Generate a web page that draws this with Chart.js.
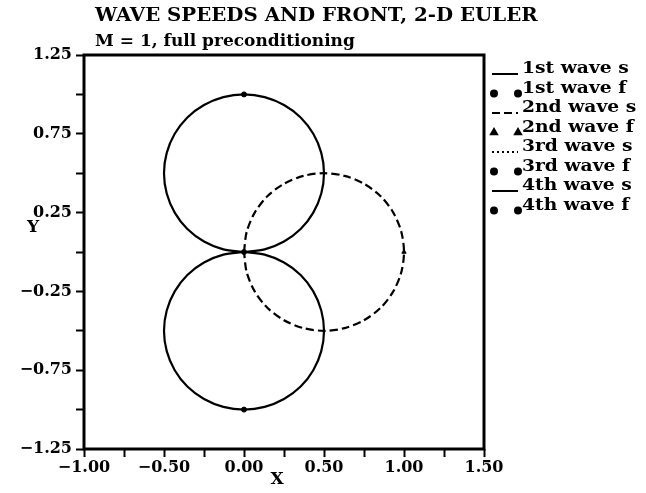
<!DOCTYPE html>
<html>
<head>
<meta charset="utf-8">
<script src="https://cdn.jsdelivr.net/npm/chart.js@4.4.0/dist/chart.umd.min.js"></script>
<style>
  html, body { margin: 0; padding: 0; background: #fff; }
</style>
</head>
<body>
<canvas id="waveChart" width="646" height="493"></canvas>
<script>
// valeurs
const titleLines = ['WAVE SPEEDS AND FRONT, 2-D EULER', 'M = 1, full preconditioning'];
const seriesLabels = ['1st wave s', '1st wave f', '2nd wave s', '2nd wave f', '3rd wave s', '3rd wave f', '4th wave s', '4th wave f'];

const xTickValues = [-1, -0.5, 0, 0.5, 1, 1.5];
const xTickLabels = ['\u22121.00', '\u22120.50', '0.00', '0.50', '1.00', '1.50'];
const yTickValues = [-1.25, -0.75, -0.25, 0.25, 0.75, 1.25];
const yTickLabels = ['\u22121.25', '\u22120.75', '\u22120.25', '0.25', '0.75', '1.25'];

// 1st wave s : cercle du haut
const wave1X = [0, 0.129, 0.25, 0.354, 0.433, 0.483, 0.5, 0.483, 0.433, 0.354, 0.25, 0.129, 0, -0.129, -0.25, -0.354, -0.433, -0.483, -0.5, -0.483, -0.433, -0.354, -0.25, -0.129, 0];
const wave1Y = [0, 0.017, 0.067, 0.146, 0.25, 0.371, 0.5, 0.629, 0.75, 0.854, 0.933, 0.983, 1, 0.983, 0.933, 0.854, 0.75, 0.629, 0.5, 0.371, 0.25, 0.146, 0.067, 0.017, 0];
// 2nd wave s : cercle en tirets
const wave2X = [0, 0.017, 0.067, 0.146, 0.25, 0.371, 0.5, 0.629, 0.75, 0.854, 0.933, 0.983, 1, 0.983, 0.933, 0.854, 0.75, 0.629, 0.5, 0.371, 0.25, 0.146, 0.067, 0.017, 0];
const wave2Y = [0, 0.129, 0.25, 0.354, 0.433, 0.483, 0.5, 0.483, 0.433, 0.354, 0.25, 0.129, 0, -0.129, -0.25, -0.354, -0.433, -0.483, -0.5, -0.483, -0.433, -0.354, -0.25, -0.129, 0];
// 3rd wave s : réduit à l'origine
const wave3X = [0];
const wave3Y = [0];
// 4th wave s : cercle du bas
const wave4X = [0, 0.129, 0.25, 0.354, 0.433, 0.483, 0.5, 0.483, 0.433, 0.354, 0.25, 0.129, 0, -0.129, -0.25, -0.354, -0.433, -0.483, -0.5, -0.483, -0.433, -0.354, -0.25, -0.129, 0];
const wave4Y = [0, -0.017, -0.067, -0.146, -0.25, -0.371, -0.5, -0.629, -0.75, -0.854, -0.933, -0.983, -1, -0.983, -0.933, -0.854, -0.75, -0.629, -0.5, -0.371, -0.25, -0.146, -0.067, -0.017, 0];

// fronts
const front1X = [0];
const front1Y = [1];
const front2X = [1];
const front2Y = [0];
const front3X = [0];
const front3Y = [0];
const front4X = [0];
const front4Y = [-1];

(function () {
  const SERIF = '"DejaVu Serif", "Liberation Serif", serif';

  function toPoints(xs, ys) {
    return xs.map((x, i) => ({ x: x, y: ys[i] }));
  }

  function speedSet(label, xs, ys, dash) {
    return {
      label: label,
      data: toPoints(xs, ys),
      showLine: true,
      borderColor: '#000',
      borderWidth: 2.2,
      borderDash: dash,
      tension: 0.3,
      pointRadius: 0,
      fill: false,
      kind: 'line'
    };
  }

  function frontSet(label, xs, ys, style) {
    return {
      label: label,
      data: toPoints(xs, ys),
      showLine: false,
      pointStyle: style,
      pointRadius: 2.5,
      backgroundColor: '#000',
      borderColor: '#000',
      borderWidth: 1,
      kind: 'point'
    };
  }

  // texte un peu élargi, comme la police d'origine
  function wideText(ctx, text, x, y, sx) {
    ctx.save();
    ctx.translate(x, y);
    ctx.scale(sx, 1);
    ctx.fillText(text, 0, 0);
    ctx.restore();
  }

  const framePlugin = {
    id: 'frame',
    afterDraw(chart) {
      const { ctx, chartArea } = chart;
      ctx.save();
      ctx.strokeStyle = '#000';
      ctx.lineWidth = 3;
      ctx.strokeRect(chartArea.left, chartArea.top, chartArea.right - chartArea.left, chartArea.bottom - chartArea.top);

      // titres
      ctx.fillStyle = '#000';
      ctx.textAlign = 'left';
      ctx.textBaseline = 'alphabetic';
      ctx.font = 'bold 19px ' + SERIF;
      wideText(ctx, titleLines[0], 95, 21, 1.04);
      ctx.font = 'bold 17px ' + SERIF;
      wideText(ctx, titleLines[1], 95, 46, 1.0);

      // noms des axes
      ctx.font = 'bold 17px ' + SERIF;
      ctx.textAlign = 'center';
      ctx.textBaseline = 'middle';
      ctx.fillText('X', 277, 480);
      ctx.fillText('Y', 33, 228);

      // légende
      const x0 = 492, x1 = 518;
      chart.data.datasets.forEach((ds, i) => {
        const y = 69 + i * 19.5;
        const yb = y + 5;
        ctx.save();
        if (ds.kind === 'line') {
          ctx.strokeStyle = '#000';
          ctx.lineWidth = 2;
          ctx.setLineDash(ds.borderDash || []);
          ctx.beginPath();
          ctx.moveTo(x0, yb);
          ctx.lineTo(x1, yb);
          ctx.stroke();
        } else {
          [x0 + 2, x1].forEach(px => {
            Chart.helpers.drawPoint(ctx, { pointStyle: ds.pointStyle, radius: 2.5, borderWidth: 1 }, px, yb);
            ctx.fill();
          });
        }
        ctx.restore();
        ctx.font = 'bold 17px ' + SERIF;
        ctx.textAlign = 'left';
        ctx.textBaseline = 'middle';
        wideText(ctx, ds.label, 522, y, 1.1);
      });
      ctx.restore();
    }
  };

  function pickLabel(values, labels, v) {
    const idx = values.findIndex(t => Math.abs(t - v) < 1e-6);
    return idx >= 0 ? labels[idx] : '';
  }

  const tickFont = { family: SERIF, weight: 'bold', size: 16 };
  const grid = { drawOnChartArea: false, drawTicks: true, tickLength: 8, tickWidth: 2, tickColor: '#000', color: '#000' };

  new Chart(document.getElementById('waveChart'), {
    type: 'scatter',
    data: {
      datasets: [
        speedSet(seriesLabels[0], wave1X, wave1Y, []),
        frontSet(seriesLabels[1], front1X, front1Y, 'circle'),
        speedSet(seriesLabels[2], wave2X, wave2Y, [8, 4]),
        frontSet(seriesLabels[3], front2X, front2Y, 'triangle'),
        speedSet(seriesLabels[4], wave3X, wave3Y, [2, 3]),
        frontSet(seriesLabels[5], front3X, front3Y, 'circle'),
        speedSet(seriesLabels[6], wave4X, wave4Y, []),
        frontSet(seriesLabels[7], front4X, front4Y, 'circle')
      ]
    },
    options: {
      responsive: false,
      animation: false,
      layout: { padding: { left: 0, top: 55, right: 162, bottom: 0 } },
      plugins: {
        legend: { display: false },
        title: { display: false },
        tooltip: { enabled: false }
      },
      scales: {
        x: {
          type: 'linear',
          min: -1,
          max: 1.5,
          afterFit(scale) { scale.height = 44; },
          border: { display: false },
          grid: grid,
          ticks: {
            stepSize: 0.25,
            autoSkip: false,
            maxRotation: 0,
            padding: 1,
            color: '#000',
            font: tickFont,
            callback: v => pickLabel(xTickValues, xTickLabels, v)
          }
        },
        y: {
          type: 'linear',
          min: -1.25,
          max: 1.25,
          afterFit(scale) { scale.width = 84; },
          border: { display: false },
          grid: grid,
          ticks: {
            stepSize: 0.25,
            autoSkip: false,
            padding: 4,
            color: '#000',
            font: tickFont,
            callback: v => pickLabel(yTickValues, yTickLabels, v)
          }
        }
      }
    },
    plugins: [framePlugin]
  });
})();
</script>
</body>
</html>
